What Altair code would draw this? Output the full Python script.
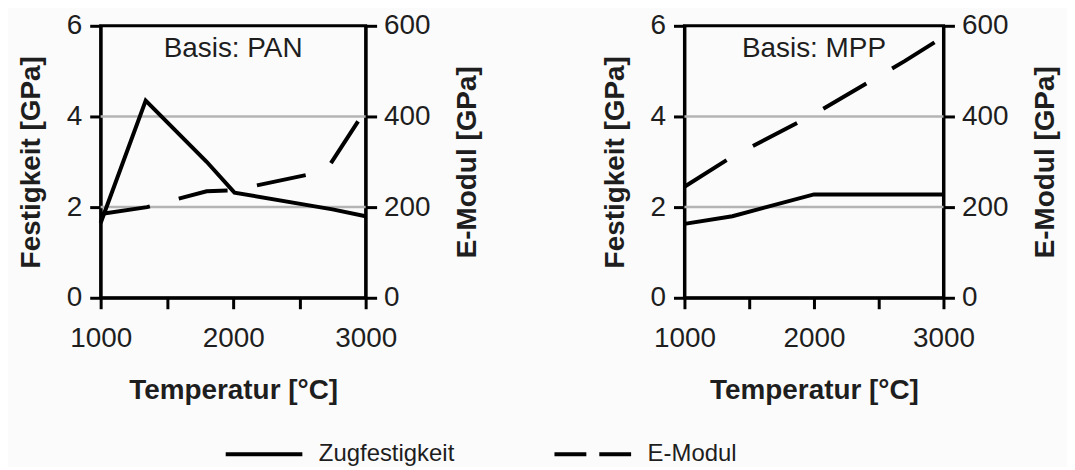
import altair as alt
import pandas as pd

# ---------------- data ----------------
temp_pan_zug = [1000, 1340, 1800, 2010, 2750, 3000]
zug_pan = [1.65, 4.35, 3.0, 2.32, 1.95, 1.8]
temp_pan_emod = [1000, 1350, 1800, 2000, 2700, 3000]
emod_pan = [185, 200, 235, 237, 280, 415]

temp_mpp_zug = [1000, 1370, 2000, 3000]
zug_mpp = [1.63, 1.8, 2.28, 2.28]
temp_mpp_emod = [1000, 1350, 2000, 2700, 3000]
emod_mpp = [245, 308, 405, 522, 576]

grid_values = [2, 4]
x_ticks = [1000, 1500, 2000, 2500, 3000]
y_left_ticks = [0, 2, 4, 6]
y_right_ticks = [0, 200, 400, 600]
series = ["Zugfestigkeit", "E-Modul"]
panel_labels = ["Basis: PAN", "Basis: MPP"]

FONT = "Liberation Sans"
TXT = "#1e1e1e"
FS = 28


def axis_common(**kw):
    base = dict(
        tickSize=11, tickWidth=3, tickColor="black",
        domainColor="black", domainWidth=3,
        labelFont=FONT, labelFontSize=FS, labelColor=TXT,
        titleFont=FONT, titleFontSize=FS, titleFontWeight="bold", titleColor=TXT,
        grid=False,
    )
    base.update(kw)
    return alt.Axis(**base)


def panel(w, zx, zy, ex, ey, label, with_legend):
    xscale = alt.Scale(domain=[1000, 3000], nice=False, zero=False)
    xaxis = axis_common(
        values=x_ticks, title="Temperatur [°C]", labelPadding=16, titlePadding=24,
        labelFlush=False,
        labelExpr="datum.value % 1000 == 0 ? format(datum.value, 'd') : ''",
    )
    yl_scale = alt.Scale(domain=[0, 6], nice=False)
    yr_scale = alt.Scale(domain=[0, 600], nice=False)
    left_axis = axis_common(values=y_left_ticks, title="Festigkeit [GPa]", orient="left",
                            labelPadding=8, titlePadding=21, format="d")
    right_axis = axis_common(values=y_right_ticks, title="E-Modul [GPa]", orient="right",
                             labelPadding=7, titlePadding=24, titleAngle=270,
                             titleBaseline="top", format="d")

    grid = alt.Chart(pd.DataFrame({"g": grid_values})).mark_rule(
        color="#b4b4b4", strokeWidth=2.5
    ).encode(y=alt.Y("g:Q", scale=yl_scale, axis=left_axis))

    zug = alt.Chart(pd.DataFrame({"T": zx, "v": zy})).mark_line(
        color="black", strokeWidth=4
    ).encode(
        x=alt.X("T:Q", scale=xscale, axis=xaxis),
        y=alt.Y("v:Q", scale=yl_scale, axis=left_axis),
    )
    inner_layers = [grid, zug]
    if with_legend:
        leg = alt.Chart(pd.DataFrame({"s": series, "T": [1000, 1000], "v": [0, 0]})).mark_line(
            color="black", strokeWidth=4
        ).encode(
            x=alt.X("T:Q", scale=xscale, axis=xaxis),
            y=alt.Y("v:Q", scale=yl_scale, axis=left_axis),
            strokeDash=alt.StrokeDash(
                "s:N",
                scale=alt.Scale(domain=series, range=[[1, 0], [32, 13]]),
                legend=alt.Legend(
                    title=None, orient="none", legendX=152, legendY=418,
                    direction="horizontal", columns=2, padding=0,
                    symbolType="M-4,0H4", symbolSize=370, symbolStrokeWidth=4,
                    symbolStrokeColor="black", labelFont=FONT, labelFontSize=24,
                    labelColor=TXT, labelOffset=43, columnPadding=91, labelLimit=400,
                ),
            ),
        )
        inner_layers.append(leg)
    inner = alt.layer(*inner_layers)

    emod = alt.Chart(pd.DataFrame({"T": ex, "v": ey})).mark_line(
        color="black", strokeWidth=4, strokeDash=[50, 30]
    ).encode(
        x=alt.X("T:Q", scale=xscale, axis=xaxis),
        y=alt.Y("v:Q", scale=yr_scale, axis=right_axis),
    )
    txt = alt.Chart(pd.DataFrame({"t": [label]})).mark_text(
        font=FONT, fontSize=FS, color=TXT, baseline="middle", align="center"
    ).encode(text="t:N", x=alt.value(w / 2), y=alt.value(23))

    return alt.layer(inner, emod, txt).resolve_scale(y="independent").properties(
        width=w, height=273
    )


left = panel(266, temp_pan_zug, zug_pan, temp_pan_emod, emod_pan, panel_labels[0], True)
right = panel(260, temp_mpp_zug, zug_mpp, temp_mpp_emod, emod_mpp, panel_labels[1], False)

chart = alt.hconcat(left, right, spacing=320, bounds="flush").properties(
    padding={"left": 7, "top": 1, "right": 5, "bottom": 0},
    background="#fbfbfb",
).configure_view(stroke="black", strokeWidth=3)

chart.save("out.html", embed_options={"renderer": "svg", "actions": False})
